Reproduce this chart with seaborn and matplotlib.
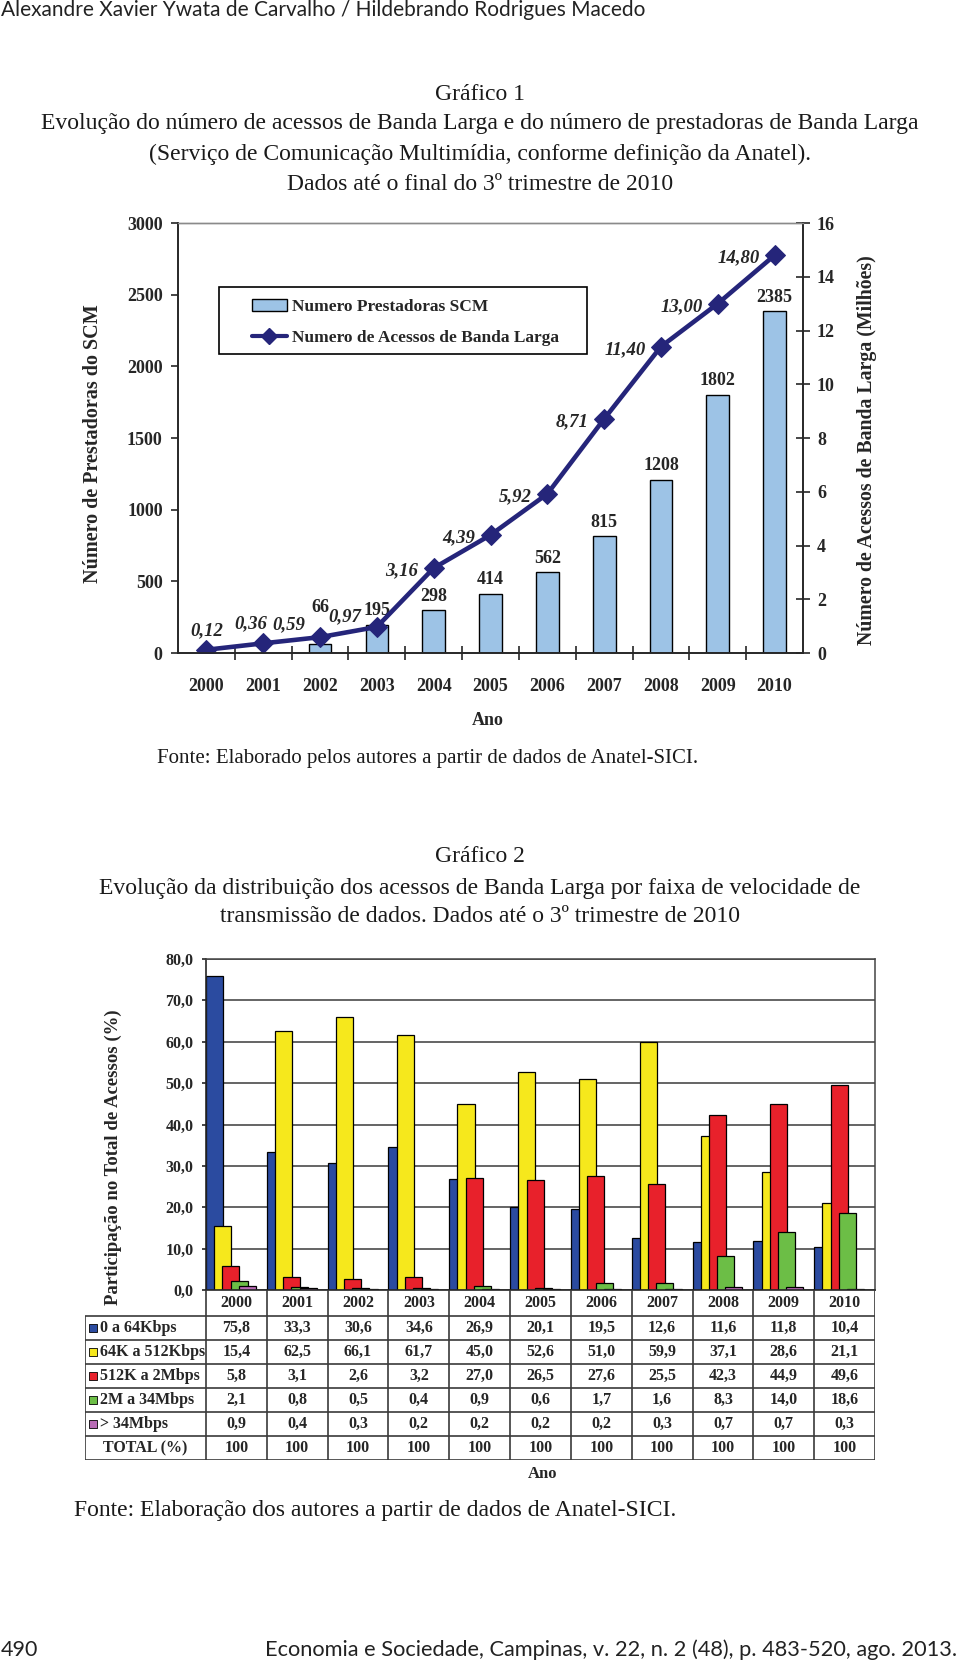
import numpy as np
import matplotlib
matplotlib.use('Agg')
import matplotlib.pyplot as plt
from matplotlib.patches import Patch, Rectangle
from matplotlib.lines import Line2D
import seaborn as sns

# Gráfico 1 data
anos = ['2000', '2001', '2002', '2003', '2004', '2005', '2006', '2007', '2008', '2009', '2010']
prestadoras = [np.nan, np.nan, 66, 195, 298, 414, 562, 815, 1208, 1802, 2385]
acessos = [0.12, 0.36, 0.59, 0.97, 3.16, 4.39, 5.92, 8.71, 11.40, 13.00, 14.80]

# Gráfico 2 data (% of total accesses by speed band)
faixas = ['0 a 64Kbps', '64K a 512Kbps', '512K a 2Mbps', '2M a 34Mbps', '> 34Mbps']
ate_64k = [75.8, 33.3, 30.6, 34.6, 26.9, 20.1, 19.5, 12.6, 11.6, 11.8, 10.4]
ate_512k = [15.4, 62.5, 66.1, 61.7, 45.0, 52.6, 51.0, 59.9, 37.1, 28.6, 21.1]
ate_2m = [5.8, 3.1, 2.6, 3.2, 27.0, 26.5, 27.6, 25.5, 42.3, 44.9, 49.6]
ate_34m = [2.1, 0.8, 0.5, 0.4, 0.9, 0.6, 1.7, 1.6, 8.3, 14.0, 18.6]
acima_34m = [0.9, 0.4, 0.3, 0.2, 0.2, 0.2, 0.2, 0.3, 0.7, 0.7, 0.3]
total = [100, 100, 100, 100, 100, 100, 100, 100, 100, 100, 100]
series = [ate_64k, ate_512k, ate_2m, ate_34m, acima_34m]

sns.set_style('ticks')
SERIF = 'Liberation Serif'
SANS = 'Lato'
plt.rcParams['font.family'] = [SERIF, 'DejaVu Serif']
plt.rcParams['axes.linewidth'] = 1.2

W, H = 960, 1667
fig = plt.figure(figsize=(9.6, 16.67), dpi=100)

def fx(x):
    return x / W

def fy(y):
    return 1 - y / H

def virgula(v, fmt='{:.1f}'):
    return fmt.format(v).replace('.', ',')

# page header / footer
fig.text(fx(1), fy(10), 'Alexandre Xavier Ywata de Carvalho / Hildebrando Rodrigues Macedo',
         family=SANS, fontsize=15, ha='left', va='center', color='#222222')
fig.text(fx(1), fy(1650), '490', family=SANS, fontsize=15.5, ha='left', va='center', color='#222222')
fig.text(fx(957), fy(1650), 'Economia e Sociedade, Campinas, v. 22, n. 2 (48), p. 483-520, ago. 2013.',
         family=SANS, fontsize=15.7, ha='right', va='center', color='#222222')

# ---------------- Gráfico 1 ----------------
titulo1 = ['Gráfico 1',
           'Evolução do número de acessos de Banda Larga e do número de prestadoras de Banda Larga',
           '(Serviço de Comunicação Multimídia, conforme definição da Anatel).',
           'Dados até o final do 3º trimestre de 2010']
for txt, y in zip(titulo1, [94, 123, 154, 185]):
    fig.text(0.5, fy(y), txt, fontsize=17, ha='center', va='center', color='#1a1a1a')

barcor = '#9DC3E6'
navy = '#25257A'

ax1 = fig.add_axes([fx(178), fy(653), (803 - 178) / W, (653 - 223) / H])
sns.barplot(x=anos, y=prestadoras, order=anos, color=barcor, saturation=1, width=0.4,
            edgecolor='black', linewidth=1, ax=ax1)
ax1.set_xlim(-0.5, 10.5)
ax1.set_ylim(0, 3000)
ax1.set_yticks(range(0, 3001, 500))
ax1.set_xlabel('')
ax1.set_ylabel('')
ax1.set_xticks(range(len(anos)))
ax1.set_xticklabels(anos, fontweight='bold', fontsize=13)
ax1.set_xticks(np.arange(0.5, len(anos) - 1), minor=True)
ax1.tick_params(axis='x', which='major', length=0, pad=18)
ax1.tick_params(axis='x', which='minor', direction='inout', length=10, width=1.2)
ax1.tick_params(axis='y', direction='out', length=5, width=1.2, pad=6)
for lbl in ax1.get_yticklabels():
    lbl.set_fontweight('bold')
    lbl.set_fontsize(13)

for i, v in enumerate(prestadoras):
    if np.isnan(v):
        continue
    dy = 20 if v < 100 else 4
    ax1.annotate(f'{v:.0f}', (i, v), xytext=(0, dy), textcoords='offset points',
                 ha='center', va='bottom', fontsize=13, fontweight='bold')

ax2 = ax1.twinx()
sns.lineplot(x=np.arange(len(anos)), y=acessos, color=navy, linewidth=3.3, marker='D',
             markersize=10, markeredgecolor=navy, ax=ax2)
ax2.set_xlim(-0.5, 10.5)
ax2.set_ylim(0, 16)
ax2.set_yticks(range(0, 17, 2))
ax2.set_ylabel('')
ax2.tick_params(axis='y', direction='inout', length=10, width=1.2, pad=5)
for lbl in ax2.get_yticklabels():
    lbl.set_fontweight('bold')
    lbl.set_fontsize(13)

for ax in (ax1, ax2):
    ax.spines['top'].set_color('#8a8a8a')
    ax.spines['top'].set_linewidth(1)

rotulo_off = [(0, 14, 'center'), (-9, 14, 'center'), (-11, 9, 'right'), (-11, 7, 'right')]
for i, v in enumerate(acessos):
    dx, dy, ha = rotulo_off[i] if i < len(rotulo_off) else (-11, -2, 'right')
    ax2.annotate(virgula(v, '{:.2f}'), (i, v), xytext=(dx, dy), textcoords='offset points',
                 ha=ha, va='center', fontsize=13.5, fontweight='bold', fontstyle='italic')

# legend: frame drawn as a rectangle, entries inside it
ax1.add_patch(Rectangle((fx(219), fy(354)), (587 - 219) / W, (354 - 287) / H,
                        transform=fig.transFigure, facecolor='white', edgecolor='black',
                        linewidth=1.2, zorder=4, clip_on=False))
handles = [Patch(facecolor=barcor, edgecolor='black', label='Numero Prestadoras SCM'),
           Line2D([], [], color=navy, lw=3, marker='D', markersize=8,
                  label='Numero de Acessos de Banda Larga')]
leg = ax1.legend(handles=handles, loc='center left', bbox_to_anchor=(fx(252), fy(322.5)),
                 bbox_transform=fig.transFigure, frameon=False, borderaxespad=0, borderpad=0,
                 handlelength=2.0, handletextpad=0.3, labelspacing=0.9,
                 prop={'family': SERIF, 'weight': 'bold', 'size': 12.5})
leg.set_zorder(5)

fig.text(fx(93), fy(444), 'Número de Prestadoras do SCM', rotation=90, fontsize=14.5,
         fontweight='bold', ha='center', va='center')
fig.text(fx(867), fy(450), 'Número de Acessos de Banda Larga (Milhões)', rotation=90, fontsize=14.3,
         fontweight='bold', ha='center', va='center')
fig.text(fx(488), fy(720), 'Ano', fontsize=13, fontweight='bold', ha='center', va='center')
fig.text(fx(157), fy(758), 'Fonte: Elaborado pelos autores a partir de dados de Anatel-SICI.',
         fontsize=15, ha='left', va='center', color='#1a1a1a')

# ---------------- Gráfico 2 ----------------
titulo2 = ['Gráfico 2',
           'Evolução da distribuição dos acessos de Banda Larga por faixa de velocidade de',
           'transmissão de dados. Dados até o 3º trimestre de 2010']
for txt, y in zip(titulo2, [856, 888, 916]):
    fig.text(0.5, fy(y), txt, fontsize=17, ha='center', va='center', color='#1a1a1a')

cores = ['#2B4BA0', '#F6E81C', '#E8212B', '#6CBE46', '#B86BB5']
deslocs = [-0.36, -0.225, -0.09, 0.045, 0.18]
pos = np.arange(len(anos))

ax3 = fig.add_axes([fx(206), fy(1290), (875 - 206) / W, (1290 - 959) / H])
for serie, cor, d in zip(series, cores, deslocs):
    sns.barplot(x=pos + d, y=serie, native_scale=True, orient='x', width=0.28, color=cor,
                saturation=1, edgecolor='black', linewidth=0.9, ax=ax3)
ax3.set_xlim(-0.5, 10.5)
ax3.set_ylim(0, 80)
ax3.set_yticks(range(0, 81, 10))
ax3.set_yticklabels([virgula(v) for v in range(0, 81, 10)], fontweight='bold', fontsize=11.5)
ax3.set_xticks([])
ax3.set_xlabel('')
ax3.set_ylabel('')
ax3.yaxis.grid(True, color='#3a3a3a', linewidth=1.1)
ax3.set_axisbelow(True)
ax3.tick_params(axis='y', direction='out', length=3, width=1.2, pad=6)
for s in ('top', 'right'):
    ax3.spines[s].set_color('#444444')
    ax3.spines[s].set_linewidth(1.1)

fig.text(fx(113), fy(1157), 'Participação no Total de Acessos (%)', rotation=90, fontsize=13.5,
         fontweight='bold', ha='center', va='center')

# data table under the chart
cat_px = (875 - 206) / len(anos)

def col_x(px):
    return -0.5 + (px - 206) / cat_px

tab = fig.add_axes([fx(85), fy(1460), (875 - 85) / W, (1460 - 1290) / H])
tab.set_xlim(col_x(85), len(anos) - 0.5)
tab.set_ylim(1460, 1290)
tab.axis('off')
linha = dict(color='#3a3a3a', linewidth=1.2)
bordas = np.arange(-0.5, len(anos))
tab.vlines(bordas, 1290, 1460, **linha)
tab.vlines([col_x(85)], 1316, 1460, **linha)
linhas_y = [1316, 1340, 1364, 1388, 1412, 1436, 1460]
tab.hlines(linhas_y, col_x(85), len(anos) - 0.5, **linha)
for i, a in enumerate(anos):
    tab.text(i, 1303, a, ha='center', va='center', fontsize=11.5, fontweight='bold')

linhas_txt = faixas + ['TOTAL (%)']
valores = series + [total]
for r, (nome, vals) in enumerate(zip(linhas_txt, valores)):
    yc = (linhas_y[r] + linhas_y[r + 1]) / 2
    if r < len(faixas):
        tab.scatter([col_x(93)], [yc], marker='s', s=26, color=cores[r], edgecolor='black',
                    linewidth=0.6, clip_on=False)
        tab.text(col_x(100), yc, nome, ha='left', va='center', fontsize=11.5, fontweight='bold')
        txts = [virgula(v) for v in vals]
    else:
        tab.text(col_x(145), yc, nome, ha='center', va='center', fontsize=11.5, fontweight='bold')
        txts = [f'{v:.0f}' for v in vals]
    for i, t in enumerate(txts):
        tab.text(i, yc, t, ha='center', va='center', fontsize=11.5, fontweight='bold')

fig.text(fx(543), fy(1474), 'Ano', fontsize=12, fontweight='bold', ha='center', va='center')
fig.text(fx(74), fy(1510), 'Fonte: Elaboração dos autores a partir de dados de Anatel-SICI.',
         fontsize=17, ha='left', va='center', color='#1a1a1a')

fig.savefig('out.png', dpi=100)
